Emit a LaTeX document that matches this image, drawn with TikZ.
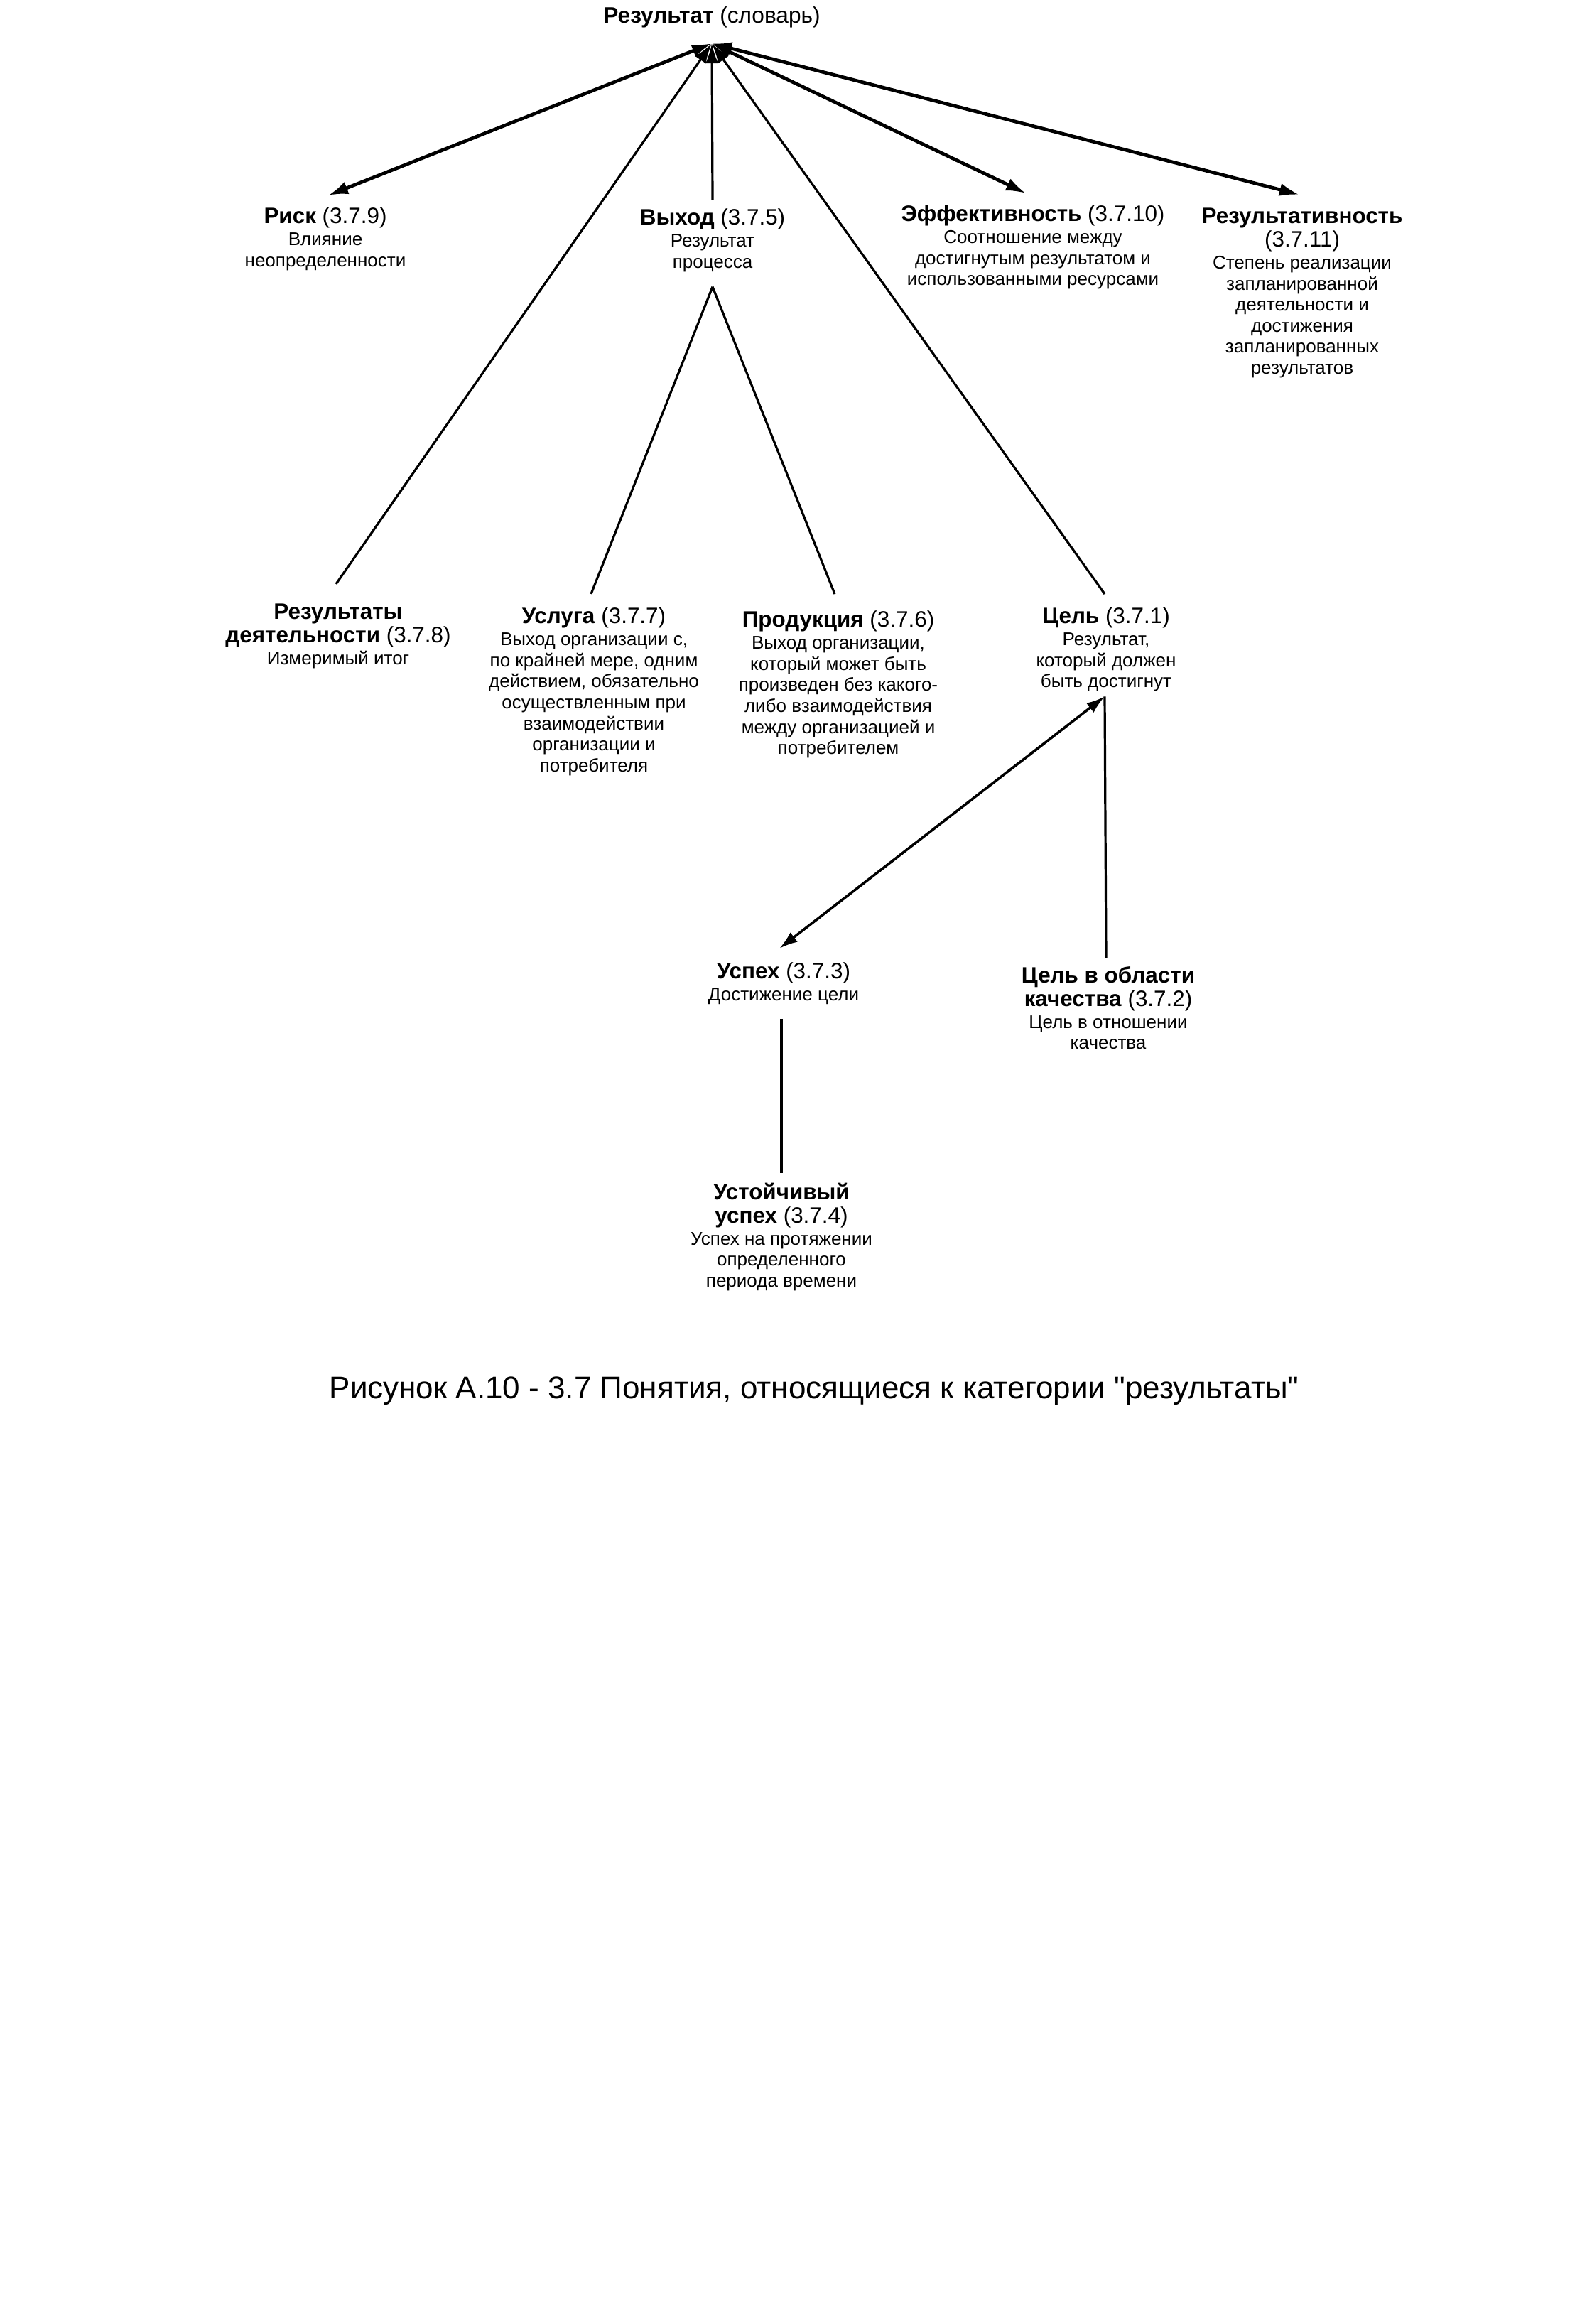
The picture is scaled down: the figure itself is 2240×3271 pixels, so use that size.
\documentclass[tikz,border=0pt]{standalone}
\usepackage{fontspec}
\setmainfont{Liberation Sans}
\newfontfamily\CapFont{Liberation Sans}
\usetikzlibrary{arrows.meta}
\newcommand\HeadF{\fontsize{7.85pt}{8.25pt}\selectfont}
\newcommand\BodyF{\fontsize{6.5pt}{7.4pt}\selectfont}
\begin{document}
\begin{tikzpicture}[x=0.25pt,y=-0.25pt,
  concept/.style={align=center,font=\BodyF,anchor=north,inner xsep=0pt,outer sep=0pt},
  plain/.style={line width=0.8pt},
  dbl/.style={line width=1.2pt,{Latex[length=7pt,width=4.6pt]}-{Latex[length=7pt,width=4.6pt]}},
  dbltwo/.style={line width=0.9pt,{Latex[length=6.5pt,width=4.2pt]}-{Latex[length=6.5pt,width=4.2pt]}},
  hubarrow/.style={line width=0.8pt,{Latex[length=7pt,width=4.6pt]}-},
]
\fill[white] (0,0) rectangle (2240,3271);
\useasboundingbox (0,0) rectangle (2240,3271);

\node[concept, anchor=base, font=\fontsize{7.9pt}{9pt}\selectfont, inner ysep=5.4pt] (title) at (1002,33) {\textbf{Результат} (словарь)};

\node[concept, inner ysep=4.25pt] (risk) at (458,275) {{\HeadF\textbf{Риск} (3.7.9)}\\[0.35pt] Влияние\\ неопределенности};
\node[concept, inner ysep=3.25pt] (out) at (1003,281) {{\HeadF\textbf{Выход} (3.7.5)}\\[0.35pt] Результат\\ процесса};
\node[concept, inner ysep=4.25pt] (eff) at (1454,272) {{\HeadF\textbf{Эффективность} (3.7.10)}\\[0.35pt] Соотношение между\\ достигнутым результатом и\\ использованными ресурсами};
\node[concept, inner ysep=4.75pt] (effc) at (1833,274) {{\HeadF\textbf{Результативность}}\\[0.85pt] {\HeadF(3.7.11)}\\[0.35pt] Степень реализации\\ запланированной\\ деятельности и\\ достижения\\ запланированных\\ результатов};

\node[concept, inner ysep=7pt] (perf) at (476,822) {{\HeadF\textbf{Результаты}}\\[0.85pt] {\HeadF\textbf{деятельности} (3.7.8)}\\[0.35pt] Измеримый итог};
\node[concept, inner ysep=4.75pt] (serv) at (836,836) {{\HeadF\textbf{Услуга} (3.7.7)}\\[0.35pt] Выход организации с,\\ по крайней мере, одним\\ действием, обязательно\\ осуществленным при\\ взаимодействии\\ организации и\\ потребителя};
\node[concept, inner ysep=6pt] (prod) at (1180,836) {{\HeadF\textbf{Продукция} (3.7.6)}\\[0.35pt] Выход организации,\\ который может быть\\ произведен без какого-\\ либо взаимодействия\\ между организацией и\\ потребителем};
\node[concept, inner ysep=4.75pt] (goal) at (1557,836) {{\HeadF\textbf{Цель} (3.7.1)}\\[0.35pt] Результат,\\ который должен\\ быть достигнут};

\node[concept, inner ysep=5pt] (succ) at (1103,1335) {{\HeadF\textbf{Успех} (3.7.3)}\\[0.35pt] Достижение цели};
\node[concept, inner ysep=3pt] (qgoal) at (1560,1348) {{\HeadF\textbf{Цель в области}}\\[0.85pt] {\HeadF\textbf{качества} (3.7.2)}\\[0.35pt] Цель в отношении\\ качества};
\node[concept, inner ysep=3.5pt] (sust) at (1100,1651) {{\HeadF\textbf{Устойчивый}}\\[0.85pt] {\HeadF\textbf{успех} (3.7.4)}\\[0.35pt] Успех на протяжении\\ определенного\\ периода времени};

\node[concept, anchor=base, font=\CapFont\fontsize{11pt}{13pt}\selectfont] (cap) at (1146,1968) {Рисунок А.10 - 3.7 Понятия, относящиеся к категории "результаты"};

\coordinate (hub) at (title.south);
\coordinate (goalfoot) at ([xshift=-0.5pt,yshift=3pt]goal.south);
\draw[dbl] (hub) -- ([xshift=1pt]risk.north);
\draw[dbl] (hub) -- ([xshift=-2.5pt]eff.north);
\draw[dbl] (hub) -- ([xshift=-1pt]effc.north);
\draw[hubarrow] (hub) -- (out.north);
\draw[hubarrow] (hub) -- ([xshift=-0.75pt]perf.north);
\draw[hubarrow] (hub) -- ([xshift=-0.5pt]goal.north);
\draw[plain] ([yshift=-2pt]out.south) -- ([xshift=-1pt]serv.north);
\draw[plain] ([yshift=-2pt]out.south) -- ([xshift=-1.25pt]prod.north);
\draw[dbltwo] (goalfoot) -- ([xshift=-1.5pt]succ.north);
\draw[plain] (goalfoot) -- ([xshift=-0.75pt]qgoal.north);
\draw[plain] ([xshift=-0.75pt]succ.south) -- (sust.north);
\end{tikzpicture}
\end{document}
